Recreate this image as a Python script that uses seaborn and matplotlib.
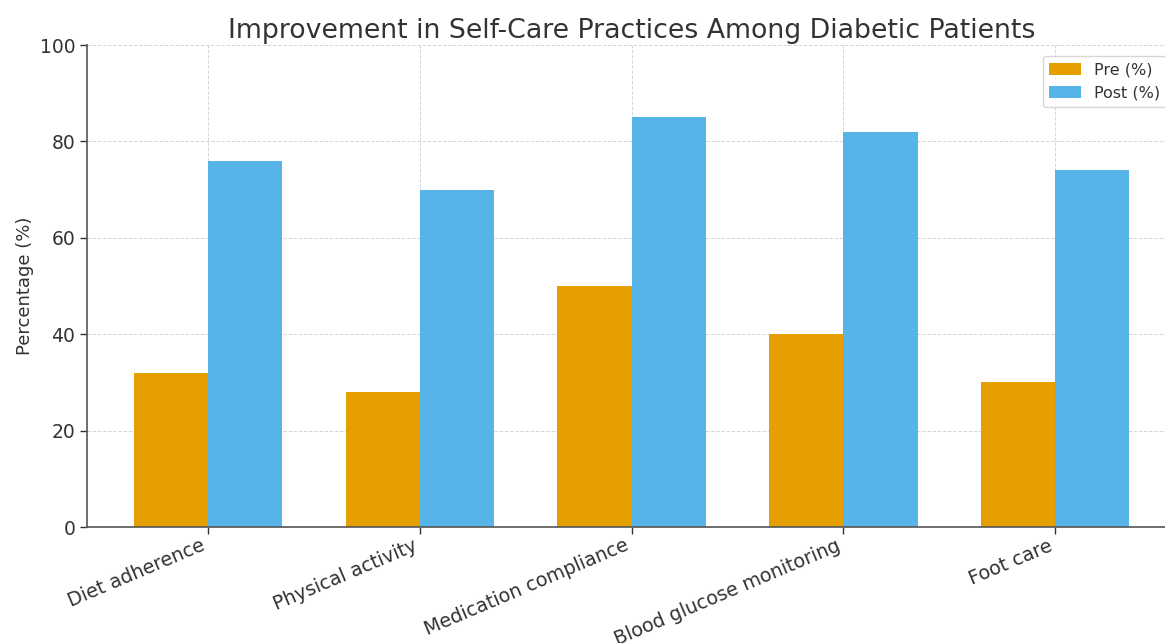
import pandas as pd
import matplotlib.pyplot as plt
import seaborn as sns

# chart values
practices = ["Diet adherence", "Physical activity", "Medication compliance",
             "Blood glucose monitoring", "Foot care"]
pre_pct = [32, 28, 50, 40, 30]
post_pct = [76, 70, 85, 82, 74]
y_ticks = [0, 20, 40, 60, 80, 100]

sns.set_theme(style="white")
plt.rcParams["font.family"] = ["DejaVu Sans"]

df = pd.DataFrame({
    "Practice": practices * 2,
    "Percentage": pre_pct + post_pct,
    "Phase": ["Pre (%)"] * len(practices) + ["Post (%)"] * len(practices),
})

fig = plt.figure(figsize=(11.65, 6.43), dpi=100)
ax = fig.add_axes([0.0747, 0.1804, 0.9348, 0.7496])

sns.barplot(data=df, x="Practice", y="Percentage", hue="Phase",
            palette=["#E69F00", "#56B4E9"], width=0.7, gap=0,
            saturation=1, linewidth=0, ax=ax)

ax.set_xlim(-0.57, 4.57)
ax.set_ylim(0, 100)
ax.set_yticks(y_ticks)
ax.grid(True, linestyle="--", linewidth=0.7, color="#cccccc", alpha=0.8)
ax.set_axisbelow(True)

for side in ["top", "right"]:
    ax.spines[side].set_visible(False)
for side in ["left", "bottom"]:
    ax.spines[side].set_color("#555555")
    ax.spines[side].set_linewidth(1.2)

ax.tick_params(axis="both", colors="#333333", labelsize=13.5, length=5,
               width=1, direction="out", left=True, bottom=True)
ax.tick_params(axis="x", labelsize=13.8, pad=1.5)
plt.setp(ax.get_xticklabels(), rotation=23, ha="right")

ax.set_xlabel("")
ax.set_ylabel("Percentage (%)", fontsize=13, color="#333333")
ax.set_title("Improvement in Self-Care Practices Among Diabetic Patients",
             fontsize=19.3, color="#333333", pad=5)

leg = ax.legend(loc="upper right", bbox_to_anchor=(1.008, 0.925),
                bbox_transform=fig.transFigure, fontsize=11.5, frameon=True)
leg.get_frame().set_edgecolor("#cccccc")
for t in leg.get_texts():
    t.set_color("#333333")

fig.savefig("out.png", dpi=100)
